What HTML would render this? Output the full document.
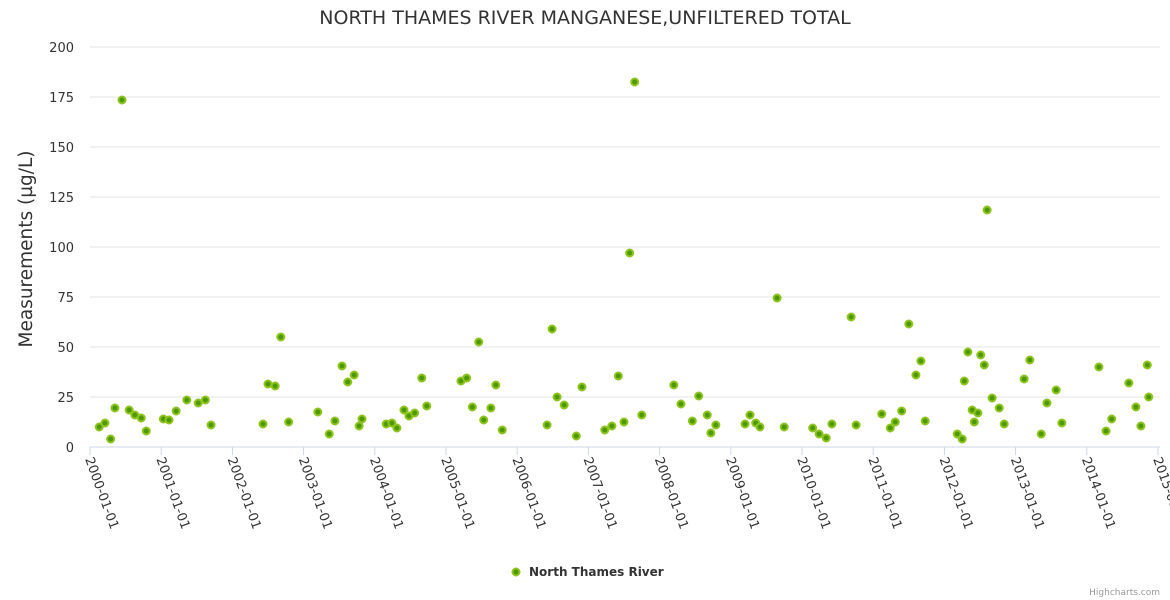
<!DOCTYPE html>
<html><head><meta charset="utf-8"><style>
body{margin:0;background:#fff;font-family:"DejaVu Sans","Liberation Sans",sans-serif}
svg{display:block;font-family:"DejaVu Sans","Liberation Sans",sans-serif}
</style></head><body>
<svg id="chart" width="1170" height="600">
<text x="585" y="24" text-anchor="middle" font-size="19" fill="#333">NORTH THAMES RIVER MANGANESE,UNFILTERED TOTAL</text>
<g id="grid"></g><g id="xaxis"></g><g id="pts"></g>
<text transform="translate(32,249) rotate(-90)" text-anchor="middle" font-size="18.5" fill="#333">Measurements (µg/L)</text>
<g>
<circle cx="516" cy="572" r="3.5" fill="#4a9a00" stroke="#8fc31f" stroke-width="2"/>
<text x="529" y="576" font-size="12" font-weight="bold" fill="#333">North Thames River</text>
</g>
<text x="1160" y="595" text-anchor="end" font-size="9" fill="#999">Highcharts.com</text>
</svg>
<script>
const years=[0.13,0.21,0.29,0.35,0.45,0.55,0.63,0.72,0.79,1.03,1.11,1.21,1.36,1.52,1.62,1.70,2.43,2.50,2.60,2.68,2.79,3.20,3.36,3.44,3.54,3.62,3.71,3.78,3.82,4.16,4.24,4.31,4.41,4.48,4.56,4.66,4.73,5.21,5.29,5.37,5.46,5.53,5.63,5.70,5.79,6.42,6.49,6.56,6.66,6.83,6.91,7.23,7.33,7.42,7.50,7.58,7.65,7.75,8.20,8.30,8.46,8.55,8.67,8.72,8.79,9.20,9.27,9.35,9.41,9.65,9.75,10.15,10.24,10.34,10.42,10.69,10.76,11.12,11.24,11.31,11.40,11.50,11.60,11.67,11.73,12.18,12.25,12.28,12.33,12.39,12.42,12.47,12.51,12.56,12.60,12.67,12.77,12.84,13.12,13.20,13.36,13.44,13.57,13.65,14.17,14.27,14.35,14.59,14.69,14.76,14.85,14.87];
const values=[10,12,4,19.5,173.5,18.5,16,14.5,8,14,13.5,18,23.5,22,23.5,11,11.5,31.5,30.5,55,12.5,17.5,6.5,13,40.5,32.5,36,10.5,14,11.5,12,9.5,18.5,15.5,17,34.5,20.5,33,34.5,20,52.5,13.5,19.5,31,8.5,11,59,25,21,5.5,30,8.5,10.5,35.5,12.5,97,182.5,16,31,21.5,13,25.5,16,7,11,11.5,16,12,10,74.5,10,9.5,6.5,4.5,11.5,65,11,16.5,9.5,12.5,18,61.5,36,43,13,6.5,4,33,47.5,18.5,12.5,17,46,41,118.5,24.5,19.5,11.5,34,43.5,6.5,22,28.5,12,40,8,14,32,20,10.5,41,25];
const yTicks=[0,25,50,75,100,125,150,175,200];
const xTicks=["2000-01-01","2001-01-01","2002-01-01","2003-01-01","2004-01-01","2005-01-01","2006-01-01","2007-01-01","2008-01-01","2009-01-01","2010-01-01","2011-01-01","2012-01-01","2013-01-01","2014-01-01","2015-01-01"];
const NS="http://www.w3.org/2000/svg";
const X0=90,X1=1158,Y0=447,Y1=47;
function xs(v){return X0+(v/15)*(X1-X0);}
function ys(v){return Y0-(v/200)*(Y0-Y1);}
function mk(t,a,p){const e=document.createElementNS(NS,t);for(const k in a)e.setAttribute(k,a[k]);p.appendChild(e);return e;}
const grid=document.getElementById('grid');
yTicks.forEach(t=>{
 const l=mk('line',{x1:X0,x2:1160,y1:ys(t),y2:ys(t),stroke:t===0?'#ccd6eb':'#e6e6e6'},grid);
 
 
 const tx=mk('text',{x:74,y:ys(t)+5,'text-anchor':'end','font-size':13,fill:'#333'},grid);
 tx.textContent=t;
 
 
});
const xa=document.getElementById('xaxis');
xTicks.forEach((s,i)=>{
 const x=xs(i);
 const l=mk('line',{x1:x,x2:x,y1:Y0,y2:Y0+8,stroke:'#ccd6eb'},xa);
 
 
 const t=mk('text',{transform:`translate(${x-5},${Y0+12}) rotate(70)`,'font-size':13,fill:'#333'},xa);
 t.textContent=s;
 
 
});
const pts=document.getElementById('pts');
years.forEach((y,i)=>{
 const c=mk('circle',{cx:xs(y),cy:ys(values[i]),r:3.5,fill:'#4a9a00',stroke:'#8fc31f','stroke-width':2},pts);
 
 
});
</script>
</body></html>
